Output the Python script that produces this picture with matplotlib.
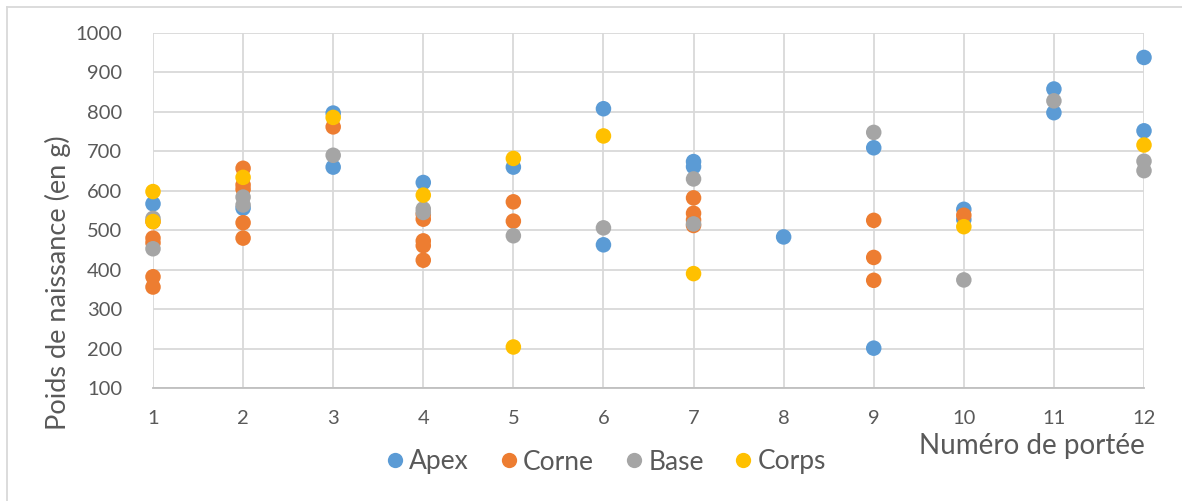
import matplotlib.pyplot as plt
from matplotlib.lines import Line2D

plt.rcParams['font.family'] = ['Lato', 'DejaVu Sans']

# weights per litter (x = litter number)
apex_x = [1, 2, 3, 3, 4, 5, 6, 6, 7, 7, 8, 9, 9, 10, 10, 11, 11, 12, 12]
apex_y = [567, 556, 797, 660, 621, 660, 808, 463, 674, 661, 483, 709, 201, 553, 527, 858, 798, 938, 752]

corne_x = [1, 1, 1, 1, 1, 2, 2, 2, 2, 2, 3, 4, 4, 4, 4, 4, 5, 5, 7, 7, 7, 7, 9, 9, 9, 10]
corne_y = [522, 480, 468, 382, 356, 657, 615, 604, 519, 480, 762, 540, 528, 473, 461, 424, 572, 523,
           582, 543, 526, 512, 525, 431, 373, 538]

base_x = [1, 1, 2, 2, 3, 4, 4, 5, 6, 7, 7, 9, 10, 11, 12, 12]
base_y = [530, 453, 584, 564, 690, 554, 545, 486, 506, 630, 516, 748, 374, 828, 675, 651]

corps_x = [1, 1, 2, 3, 4, 5, 5, 6, 7, 10, 12]
corps_y = [598, 522, 634, 786, 589, 682, 204, 739, 390, 509, 716]

series = [
    ('Apex', apex_x, apex_y, '#5B9BD5'),
    ('Corne', corne_x, corne_y, '#ED7D31'),
    ('Base', base_x, base_y, '#A5A5A5'),
    ('Corps', corps_x, corps_y, '#FFC000'),
]

fig = plt.figure(figsize=(11.82, 5.01), dpi=100)
ax = fig.add_axes([153 / 1182, 1 - 388 / 501, 991 / 1182, 355 / 501])

for name, xs, ys, col in series:
    ax.scatter(xs, ys, s=125, color=col, edgecolors='none', zorder=3, clip_on=False)

ax.set_xlim(1, 12)
ax.set_ylim(100, 1000)
ax.set_xticks(range(1, 13))
ax.set_yticks(range(100, 1001, 100))
ax.grid(True, color='#D9D9D9', linewidth=1.3, zorder=0)
ax.set_axisbelow(True)
for side in ['top', 'right', 'left']:
    ax.spines[side].set_visible(False)
ax.spines['bottom'].set_color('#BFBFBF')
ax.spines['bottom'].set_linewidth(1.3)
ax.tick_params(length=0, labelsize=14.5, labelcolor='#595959')
ax.tick_params(axis='x', pad=16)
ax.tick_params(axis='y', pad=22)

fig.text(58 / 1182, 1 - 283 / 501, 'Poids de naissance (en g)', rotation=90,
         ha='center', va='center', fontsize=19.5, color='#595959')
fig.text(1032 / 1182, 1 - 446 / 501, 'Numéro de portée', ha='center', va='center',
         fontsize=20, color='#595959')

handles = [Line2D([], [], marker='o', linestyle='none', markersize=11,
                  markerfacecolor=c, markeredgecolor='none', label=n)
           for n, _, _, c in series]
fig.legend(handles=handles, loc='center', bbox_to_anchor=(604 / 1182, 1 - 462 / 501),
           ncol=4, frameon=False, fontsize=19, handletextpad=0.05, columnspacing=1.0,
           handlelength=1.0, labelcolor='#595959')

# outer chart border
fig.add_artist(Line2D([7 / 1182, 7 / 1182], [0, 1 - 7 / 501], color='#D9D9D9', linewidth=1.3))
fig.add_artist(Line2D([7 / 1182, 1], [1 - 7 / 501, 1 - 7 / 501], color='#D9D9D9', linewidth=1.3))

fig.savefig('out.png', dpi=100)
